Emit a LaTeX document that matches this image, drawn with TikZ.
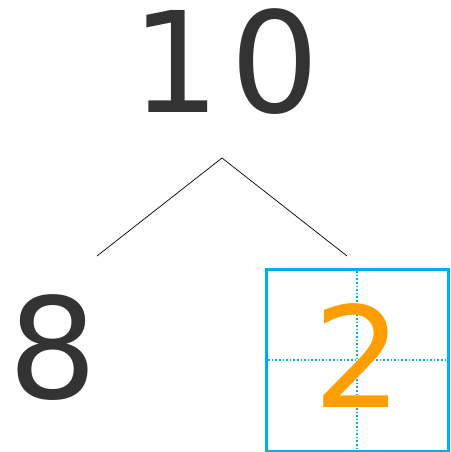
\documentclass[tikz,border=0pt]{standalone}
\usepackage{fontspec}
\setmainfont{DejaVu Sans}
\definecolor{digit}{HTML}{333333}
\definecolor{boxblue}{HTML}{00AEEF}
\definecolor{orng}{HTML}{FF9E00}
\begin{document}
\begin{tikzpicture}[x=1pt,y=-1pt,
  bigdigit/.style={inner sep=0pt,anchor=base,font=\fontsize{140}{140}\selectfont,text=digit},
  branch/.style={draw=black,line width=0.7pt},
  gridbox/.style={draw=boxblue,line width=3pt,minimum size=182pt,inner sep=0pt},
  guide/.style={draw=boxblue,line width=1.6pt,dotted}]
\useasboundingbox (0,0) rectangle (450,452);
\node[bigdigit] (ten) at (226,112) {1\kern10pt0};
\coordinate (apex) at (222,158);
\coordinate (lend) at (97,256);
\coordinate (rend) at (347,256);
\draw[branch] (lend) -- (apex) -- (rend);
\node[bigdigit] (eight) at (53,398) {8};
\node[gridbox] (box) at (357,360) {};
\draw[guide] (box.north) -- (box.south);
\draw[guide] (box.west) -- (box.east);
\node[bigdigit,text=orng] (two) at (358,407) {2};
\end{tikzpicture}
\end{document}
